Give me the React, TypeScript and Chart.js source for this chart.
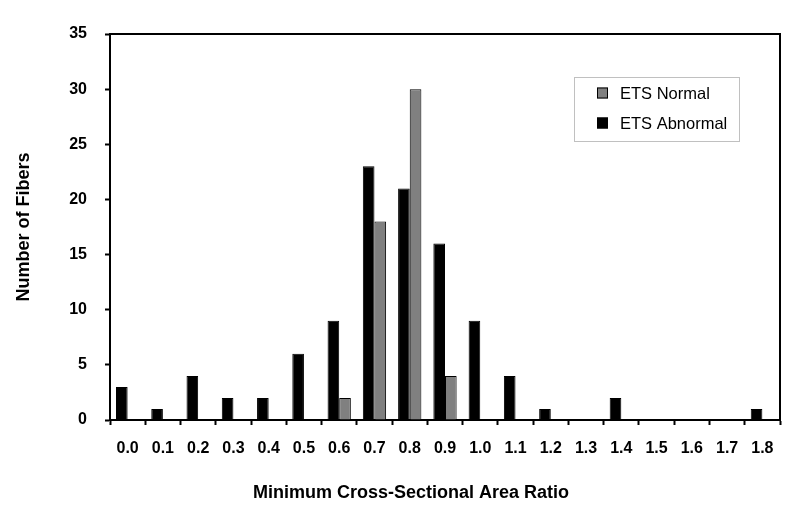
import React, { useEffect, useRef } from "react";
import { Chart, registerables } from "chart.js";

Chart.register(...registerables);

const categories = ["0.0", "0.1", "0.2", "0.3", "0.4", "0.5", "0.6", "0.7", "0.8", "0.9", "1.0", "1.1", "1.2", "1.3", "1.4", "1.5", "1.6", "1.7", "1.8"];
const etsAbnormal = [3, 1, 4, 2, 2, 6, 9, 23, 21, 16, 9, 4, 1, 0, 2, 0, 0, 0, 1];
const etsNormal = [0, 0, 0, 0, 0, 0, 2, 18, 30, 4, 0, 0, 0, 0, 0, 0, 0, 0, 0];
const yMin = 0;
const yMax = 35;
const yStep = 5;
const xTitle = "Minimum Cross-Sectional Area Ratio";
const yTitle = "Number of Fibers";
const legendOrder = [1, 0];

const FONT = "'Liberation Sans', Arial, sans-serif";

const framePlugin = {
  id: "frame",
  afterDraw(chart: any) {
    const { ctx, chartArea } = chart;
    ctx.save();
    // top & right frame
    ctx.strokeStyle = "#000";
    ctx.lineWidth = 2;
    ctx.beginPath();
    ctx.moveTo(chartArea.left, chartArea.top);
    ctx.lineTo(chartArea.right, chartArea.top);
    ctx.lineTo(chartArea.right, chartArea.bottom);
    ctx.stroke();

    // x title
    ctx.fillStyle = "#000";
    ctx.font = `bold 18px ${FONT}`;
    ctx.textAlign = "center";
    ctx.textBaseline = "middle";
    ctx.fillText(xTitle, 411, 493);

    // legend
    const bx = 574, by = 77, bw = 165, bh = 64;
    ctx.strokeStyle = "#c0c0c0";
    ctx.lineWidth = 1;
    ctx.strokeRect(bx + 0.5, by + 0.5, bw, bh);
    ctx.font = `16.5px ${FONT}`;
    ctx.textAlign = "left";
    legendOrder.forEach((di, i) => {
      const ds = chart.data.datasets[di];
      const cy = 93 + i * 30;
      ctx.fillStyle = ds.backgroundColor;
      ctx.fillRect(597, cy - 5.5, 11, 11);
      ctx.strokeStyle = "#000";
      ctx.lineWidth = 1;
      ctx.strokeRect(597.5, cy - 5, 10, 10);
      ctx.fillStyle = "#000";
      ctx.fillText(ds.label, 620, cy + 1);
    });
    ctx.restore();
  },
};

export default function App() {
  const ref = useRef<HTMLCanvasElement | null>(null);

  useEffect(() => {
    if (!ref.current) return;
    const chart = new Chart(ref.current, {
      type: "bar",
      data: {
        labels: categories,
        datasets: [
          {
            label: "ETS Abnormal",
            data: etsAbnormal,
            backgroundColor: "#000000",
            borderColor: "#000000",
            borderWidth: 1,
            categoryPercentage: 0.66,
            barPercentage: 1.0,
          },
          {
            label: "ETS Normal",
            data: etsNormal,
            backgroundColor: "#808080",
            borderColor: "#000000",
            borderWidth: 1,
            categoryPercentage: 0.66,
            barPercentage: 1.0,
          },
        ],
      },
      options: {
        animation: false,
        responsive: true,
        maintainAspectRatio: false,
        layout: { padding: { top: 34, right: 20, left: 0, bottom: 0 } },
        plugins: {
          legend: { display: false },
          tooltip: { enabled: false },
        },
        scales: {
          x: {
            offset: true,
            grid: {
              offset: true,
              drawOnChartArea: false,
              drawTicks: true,
              tickLength: 5,
              tickColor: "#000",
              tickWidth: 2,
            },
            border: { display: true, color: "#000", width: 2 },
            ticks: {
              color: "#000",
              font: { family: FONT, size: 16, weight: "bold" },
              padding: 14,
              maxRotation: 0,
              autoSkip: false,
            },
            afterFit(scale: any) {
              scale.height = 93;
            },
          },
          y: {
            min: yMin,
            max: yMax,
            grid: {
              drawOnChartArea: false,
              drawTicks: true,
              tickLength: 5,
              tickColor: "#000",
              tickWidth: 2,
            },
            border: { display: true, color: "#000", width: 2 },
            ticks: {
              stepSize: yStep,
              color: "#000",
              font: { family: FONT, size: 16, weight: "bold" },
              padding: 18,
            },
            title: {
              display: true,
              text: yTitle,
              color: "#000",
              font: { family: FONT, size: 18, weight: "bold", lineHeight: 1 },
              padding: { top: 15, bottom: 0 },
            },
            afterFit(scale: any) {
              scale.width = 110;
            },
          },
        },
      },
      plugins: [framePlugin],
    });
    return () => chart.destroy();
  }, []);

  return (
    <div style={{ position: "fixed", left: 0, top: 0, width: 800, height: 513, background: "#fff" }}>
      <canvas ref={ref} />
    </div>
  );
}
